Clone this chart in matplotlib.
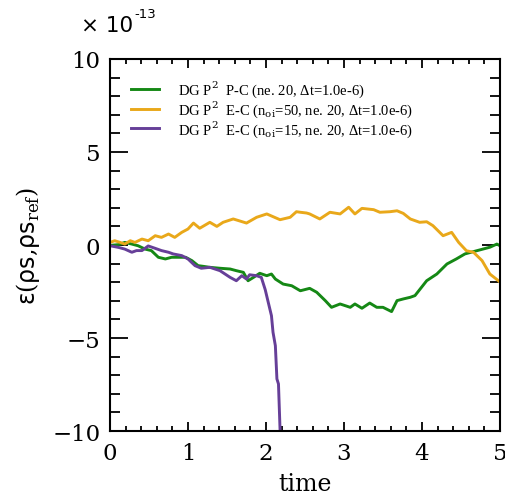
import numpy as np
import matplotlib
matplotlib.use('Agg')
import matplotlib.pyplot as plt
from matplotlib.ticker import MultipleLocator

plt.rcParams['font.family'] = 'DejaVu Serif'
plt.rcParams['mathtext.fontset'] = 'custom'
plt.rcParams['mathtext.rm'] = 'DejaVu Serif'
plt.rcParams['mathtext.it'] = 'DejaVu Sans'
plt.rcParams['mathtext.sf'] = 'DejaVu Sans'

# error histories, in units of 1e-13
t_pc = [0, 0.11, 0.19, 0.28, 0.36, 0.45, 0.53, 0.62, 0.71, 0.79, 0.88, 0.97, 1.05, 1.13,
        1.20, 1.28, 1.41, 1.54, 1.62, 1.71, 1.77, 1.84, 1.92, 2.01, 2.07, 2.12, 2.22, 2.33,
        2.44, 2.56, 2.65, 2.76, 2.84, 2.95, 3.08, 3.14, 3.23, 3.33, 3.42, 3.50, 3.61, 3.68,
        3.76, 3.85, 3.91, 4.06, 4.19, 4.32, 4.44, 4.55, 4.70, 4.87, 4.96, 5.00]
err_pc = [-0.02, 0.02, 0.14, 0.05, -0.04, -0.22, -0.30, -0.66, -0.75, -0.66, -0.66, -0.66,
          -0.84, -1.11, -1.15, -1.20, -1.25, -1.29, -1.38, -1.47, -1.92, -1.74, -1.52, -1.65,
          -1.56, -1.83, -2.10, -2.19, -2.46, -2.33, -2.54, -2.99, -3.35, -3.17, -3.35, -3.17,
          -3.40, -3.12, -3.35, -3.35, -3.58, -2.99, -2.90, -2.81, -2.72, -1.92, -1.56, -1.02,
          -0.75, -0.48, -0.31, -0.12, 0.05, -0.04]

t_ec50 = [0, 0.06, 0.13, 0.19, 0.26, 0.32, 0.41, 0.49, 0.58, 0.66, 0.75, 0.83, 0.92, 1.00,
          1.07, 1.15, 1.28, 1.37, 1.45, 1.58, 1.75, 1.88, 2.01, 2.18, 2.31, 2.39, 2.44, 2.52,
          2.56, 2.69, 2.82, 2.95, 3.06, 3.14, 3.23, 3.38, 3.46, 3.59, 3.68, 3.76, 3.85, 3.97,
          4.06, 4.14, 4.27, 4.38, 4.47, 4.57, 4.66, 4.77, 4.87, 4.98, 5.00]
err_ec50 = [0.14, 0.23, 0.14, 0.05, 0.23, 0.14, 0.32, 0.23, 0.50, 0.41, 0.59, 0.41, 0.68,
            0.86, 1.18, 0.90, 1.22, 1.00, 1.22, 1.40, 1.18, 1.49, 1.67, 1.36, 1.49, 1.79,
            1.76, 1.72, 1.67, 1.40, 1.76, 1.67, 2.03, 1.67, 1.97, 1.90, 1.76, 1.79, 1.84,
            1.70, 1.40, 1.22, 1.25, 1.04, 0.50, 0.68, 0.14, -0.31, -0.39, -0.84, -1.56,
            -1.92, -2.00]

t_ec15 = [0, 0.11, 0.19, 0.28, 0.34, 0.41, 0.49, 0.58, 0.66, 0.75, 0.81, 0.92, 1.00, 1.09,
          1.17, 1.28, 1.41, 1.54, 1.62, 1.69, 1.75, 1.79, 1.88, 1.94, 1.99, 2.03, 2.07,
          2.09, 2.12, 2.14, 2.16, 2.18, 2.185]
err_ec15 = [-0.04, -0.13, -0.22, -0.39, -0.30, -0.30, -0.05, -0.18, -0.30, -0.39, -0.48,
            -0.57, -0.75, -1.11, -1.25, -1.20, -1.38, -1.74, -1.92, -1.65, -1.83, -1.60,
            -1.65, -1.74, -2.40, -3.10, -3.80, -4.69, -5.41, -7.20, -7.47, -9.90, -10.5]

labels = [r'DG P$^{2}$  P-C (ne. 20, Δt=1.0e-6)',
          r'DG P$^{2}$  E-C (n$_{\mathrm{oi}}$=50, ne. 20, Δt=1.0e-6)',
          r'DG P$^{2}$  E-C (n$_{\mathrm{oi}}$=15, ne. 20, Δt=1.0e-6)']
colors = ['#158815', '#e9a81a', '#663f98']

fig = plt.figure(figsize=(5.05, 5.02), dpi=100)
ax = fig.add_axes([0.2178, 0.1394, 0.7723, 0.7411])

series = [(t_pc, err_pc), (t_ec50, err_ec50), (t_ec15, err_ec15)]
for (t, e), lab, c in zip(series, labels, colors):
    ax.plot(t, e, color=c, lw=2.1, label=lab)

ax.set_xlim(0, 5)
ax.set_ylim(-10, 10)
ax.xaxis.set_major_locator(MultipleLocator(1))
ax.xaxis.set_minor_locator(MultipleLocator(0.2))
ax.yaxis.set_major_locator(MultipleLocator(5))
ax.yaxis.set_minor_locator(MultipleLocator(1))

ax.tick_params(axis='both', which='both', direction='in', top=True, right=True,
               labelsize=16.5, width=1.3)
ax.tick_params(axis='x', which='major', length=6.5, pad=8)
ax.tick_params(axis='x', which='minor', length=3.6)
ax.tick_params(axis='y', which='major', length=13, pad=7)
ax.tick_params(axis='y', which='minor', length=7)
for sp in ax.spines.values():
    sp.set_linewidth(1.5)

# scale factor of the y axis
fig.text(81 / 505, 1 - 32 / 502, '× 10', fontsize=15.5, family='DejaVu Sans', va='baseline')
fig.text(134 / 505, 1 - 18 / 502, '-13', fontsize=9.5, family='DejaVu Sans', va='baseline')

ax.set_xlabel('time', fontsize=17, labelpad=6)
ax.set_ylabel(r'$\epsilon(\rho s{,}\rho s_{\mathrm{ref}})$', fontsize=17, labelpad=7)

ax.legend(loc='upper left', bbox_to_anchor=(0.04, 0.962), frameon=False,
          prop={'family': 'Liberation Serif', 'size': 10.5},
          handlelength=1.9, handletextpad=1.3, labelspacing=-0.05, borderaxespad=0)

fig.savefig('out.png', dpi=100)
